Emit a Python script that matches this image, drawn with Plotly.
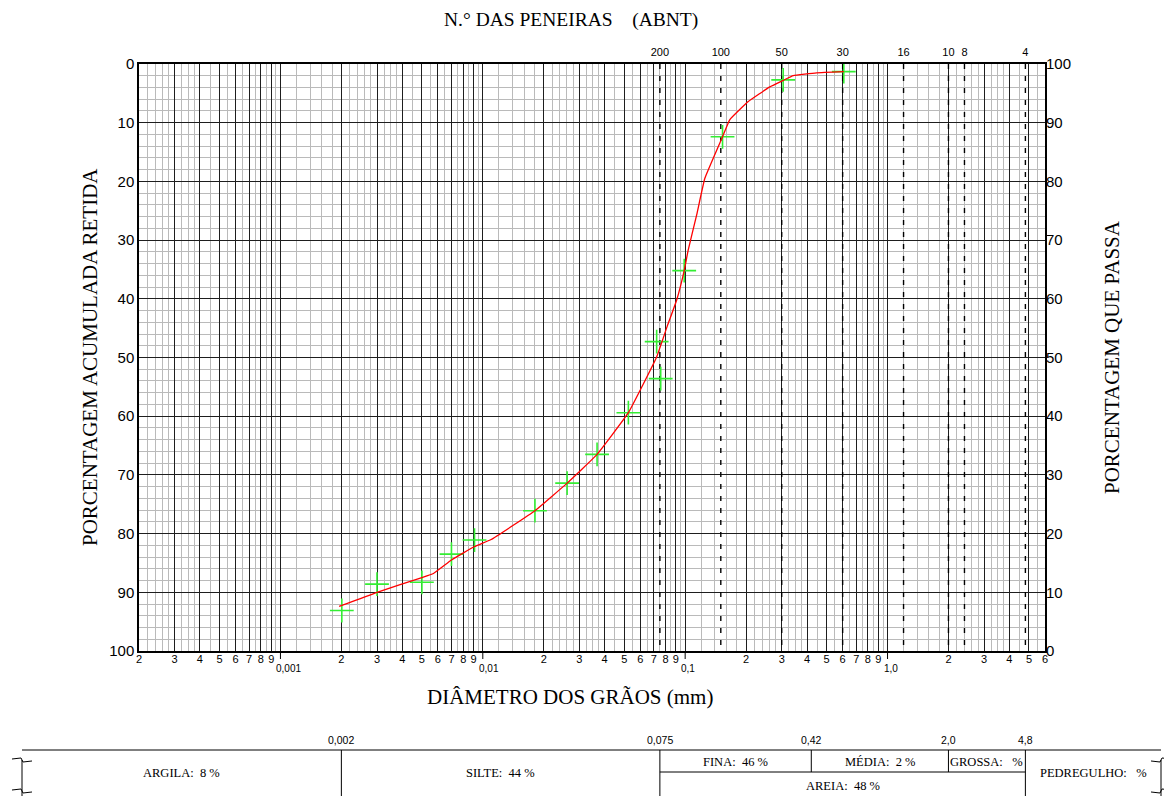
import math
import plotly.graph_objects as go

# ---------------- data ----------------
# red fitted curve: grain diameter (mm) vs cumulative % retained
curve_mm = [0.00195, 0.003, 0.005, 0.0057, 0.007, 0.0091, 0.011, 0.0181, 0.0261, 0.0367,
            0.0524, 0.0723, 0.0815, 0.0908, 0.0989, 0.1035, 0.114, 0.125, 0.153, 0.166,
            0.205, 0.262, 0.305, 0.342, 0.446, 0.608]
curve_ret = [92.4, 90.0, 87.5, 86.8, 84.5, 82.2, 81.0, 76.1, 71.4, 66.5,
             59.4, 49.9, 44.7, 40.2, 35.2, 31.7, 25.7, 19.5, 12.4, 9.5,
             6.4, 3.9, 2.8, 2.0, 1.5, 1.3]

# green test points
pts_mm = [0.00201, 0.0030, 0.0050, 0.0070, 0.0091, 0.0181, 0.0261, 0.0367, 0.0524,
          0.0723, 0.0757, 0.0989, 0.153, 0.305, 0.608]
pts_ret = [93.1, 88.6, 88.3, 83.5, 81.1, 76.1, 71.4, 66.5, 59.4,
           47.3, 53.6, 35.2, 12.4, 2.7, 1.3]

# ABNT sieves
sieve_no = ["200", "100", "50", "30", "16", "10", "8", "4"]
sieve_mm = [0.075, 0.15, 0.3, 0.6, 1.2, 2.0, 2.4, 4.8]

# y ticks
y_ticks = [0, 10, 20, 30, 40, 50, 60, 70, 80, 90, 100]

# decade labels
decade_vals = [0.001, 0.01, 0.1, 1.0]
decade_text = ["0,001", "0,01", "0,1", "1,0"]

# classification table
bound_mm = [0.002, 0.075, 0.42, 2.0, 4.8]
bound_text = ["0,002", "0,075", "0,42", "2,0", "4,8"]
argila_pct, silte_pct, fina_pct, media_pct, grossa_pct, areia_pct, pedreg_pct = "8", "44", "46", "2", "", "48", ""

# ---------------- geometry helpers ----------------
XMIN, XMAX = 0.0002, 6.0
LMIN, LMAX = math.log10(XMIN), math.log10(XMAX)
W, H = 1172, 796
OFF = 8  # page body margin
# plot area in screen pixels: x 139..1045, y 64..651
SX0, SX1, SY0, SY1 = 139, 1045, 64, 651
ML, MT = SX0 - OFF, SY0 - OFF
MR, MB = W - (SX1 - OFF), H - (SY1 - OFF)
PW, PH = SX1 - SX0, SY1 - SY0


def xp(d):  # data diameter -> paper x
    return (math.log10(d) - LMIN) / (LMAX - LMIN)


def px(x):  # screen pixel x -> paper
    return (x - SX0) / PW


def py(y):  # screen pixel y -> paper
    return (SY1 - y) / PH


# grid values
major, major_txt, minor = [], [], []
for e in range(-4, 1):
    dec = 10.0 ** e
    for m in range(1, 10):
        v = round(m * dec, 10)
        if XMIN - 1e-12 <= v <= XMAX + 1e-12:
            major.append(v)
            major_txt.append("" if m == 1 else str(m))
    subs = [1.2, 1.4, 1.6, 1.8, 2.2, 2.4, 2.6, 2.8, 3.25, 3.5, 3.75,
            4.5, 5.5, 6.5, 7.5, 8.5, 9.5]
    for s in subs:
        v = round(s * dec, 12)
        if XMIN < v < XMAX:
            minor.append(v)

fig = go.Figure()

# sieve dashed lines
for d in sieve_mm:
    fig.add_trace(go.Scatter(x=[d, d], y=[0, 100], mode="lines",
                             line=dict(color="black", width=1.4, dash="5px,7px"),
                             hoverinfo="skip", showlegend=False))

# test points
fig.add_trace(go.Scatter(x=pts_mm, y=pts_ret, mode="markers",
                         marker=dict(symbol="cross-thin", size=17,
                                     line=dict(color="#33ee33", width=1.6)),
                         showlegend=False))

# curve
fig.add_trace(go.Scatter(x=curve_mm, y=curve_ret, mode="lines",
                         line=dict(color="#ff0000", width=1.3, shape="spline", smoothing=0.3),
                         showlegend=False))

# dummy trace for the secondary axes
fig.add_trace(go.Scatter(x=sieve_mm, y=[None] * len(sieve_mm), xaxis="x2", yaxis="y2",
                         mode="lines", showlegend=False, hoverinfo="skip"))

tick_font = dict(family="Liberation Sans, Arial, sans-serif", color="black")
serif = "Liberation Serif, Times New Roman, serif"

fig.update_layout(
    width=W, height=H, autosize=False,
    margin=dict(l=ML, r=MR, t=MT, b=MB, autoexpand=False),
    paper_bgcolor="white", plot_bgcolor="white",
    showlegend=False,
    xaxis=dict(type="log", range=[LMIN, LMAX], tickvals=major, ticktext=major_txt,
               showgrid=True, gridcolor="#1e1e1e", gridwidth=1,
               minor=dict(tickvals=minor, showgrid=True, gridcolor="#bababa", gridwidth=1, ticks=""),
               ticks="", showline=True, linecolor="black", linewidth=1.5, mirror=True,
               ticklabelstandoff=-3,
               zeroline=False, tickfont=dict(size=11, **tick_font)),
    xaxis2=dict(type="log", range=[LMIN, LMAX], overlaying="x", side="top",
                tickvals=sieve_mm, ticktext=sieve_no, showgrid=False, ticks="",
                ticklabelstandoff=5,
                zeroline=False, showline=False, tickfont=dict(size=11, **tick_font)),
    yaxis=dict(range=[100, 0], tickvals=y_ticks, showgrid=True, gridcolor="#1e1e1e", gridwidth=1,
               minor=dict(tick0=0, dtick=2, showgrid=True, gridcolor="#bababa", gridwidth=1, ticks=""),
               ticks="", showline=True, linecolor="black", linewidth=1.5, mirror=True,
               zeroline=False, tickfont=dict(size=15, **tick_font)),
    yaxis2=dict(range=[0, 100], overlaying="y", side="right", tickvals=y_ticks,
                ticktext=[str(v) for v in y_ticks], showgrid=False, ticks="",
                zeroline=False, showline=False, tickfont=dict(size=15, **tick_font)),
)

ann = []
# decade labels under the axis
for v, t in zip(decade_vals, decade_text):
    ann.append(dict(x=math.log10(v), xref="x", y=py(668), yref="paper", text=t, showarrow=False,
                    font=dict(size=10, **tick_font), xanchor="left", xshift=-6, yanchor="middle"))

# titles
ann.append(dict(x=px(570), y=py(697), xref="paper", yref="paper", text="DIÂMETRO DOS GRÃOS (mm)",
                showarrow=False, font=dict(family=serif, size=21, color="black"),
                xanchor="center", yanchor="middle"))
ann.append(dict(x=px(571), y=py(20), xref="paper", yref="paper",
                text="N.° DAS PENEIRAS\u00a0\u00a0\u00a0\u00a0(ABNT)",
                showarrow=False, font=dict(family=serif, size=19.5, color="black"),
                xanchor="center", yanchor="middle"))
ann.append(dict(x=px(90), y=py(357), xref="paper", yref="paper", text="PORCENTAGEM ACUMULADA RETIDA",
                showarrow=False, textangle=-90, font=dict(family=serif, size=21, color="black"),
                xanchor="center", yanchor="middle"))
ann.append(dict(x=px(1112), y=py(357), xref="paper", yref="paper", text="PORCENTAGEM QUE PASSA",
                showarrow=False, textangle=-90, font=dict(family=serif, size=21, color="black"),
                xanchor="center", yanchor="middle"))

# table
TL, TR = px(22), px(1161)
Y_TOP, Y_MID, Y_BOT = py(750), py(772), py(805)
shapes = []
lk = dict(color="black", width=1)


def seg(x0, y0, x1, y1):
    shapes.append(dict(type="line", xref="paper", yref="paper", x0=x0, y0=y0, x1=x1, y1=y1,
                       line=lk, layer="above"))


seg(TL, Y_TOP, TR, Y_TOP)
b = [xp(v) for v in bound_mm]
seg(b[0], Y_TOP, b[0], Y_BOT)
seg(b[1], Y_TOP, b[1], Y_BOT)
seg(b[4], Y_TOP, b[4], Y_BOT)
seg(b[2], Y_TOP, b[2], Y_MID)
seg(b[3], Y_TOP, b[3], Y_MID)
seg(b[1], Y_MID, b[4], Y_MID)

# break symbols at table ends
for xc, sgn in ((22, 1), (1161, -1)):
    seg(px(xc), py(760), px(xc), py(805))
    for yc in (760, 791):
        pts = [(xc - 10 * sgn, yc - 1), (xc - 1 * sgn, yc - 2), (xc + 1 * sgn, yc + 2), (xc + 10 * sgn, yc + 1)]
        path = "M " + " L ".join(f"{px(a):.5f},{py(c):.5f}" for a, c in pts)
        shapes.append(dict(type="path", xref="paper", yref="paper", path=path, line=lk, layer="above"))

# decade tick marks below axis
for v in decade_vals:
    seg(xp(v), 0, xp(v), py(659))

# boundary labels above table
for v, t in zip(bound_mm, bound_text):
    ann.append(dict(x=xp(v), y=py(740), xref="paper", yref="paper", text=t, showarrow=False,
                    font=dict(size=10.5, **tick_font), xanchor="center", yanchor="middle"))

cell_font = dict(family=serif, size=12.5, color="black")


def cell(xc, yc, text):
    ann.append(dict(x=xc, y=yc, xref="paper", yref="paper", text=text, showarrow=False,
                    font=cell_font, xanchor="center", yanchor="middle"))


y_full = py(773)
y_up = py(762)
y_dn = py(786)
cell((TL + b[0]) / 2, y_full, f"ARGILA:\u00a0\u00a0{argila_pct}\u00a0%")
cell((b[0] + b[1]) / 2, y_full, f"SILTE:\u00a0\u00a0{silte_pct}\u00a0%")
cell((b[1] + b[2]) / 2, y_up, f"FINA:\u00a0\u00a0{fina_pct}\u00a0%")
cell((b[2] + b[3]) / 2, y_up, f"MÉDIA:\u00a0\u00a0{media_pct}\u00a0%")
cell((b[3] + b[4]) / 2, y_up, f"GROSSA:\u00a0\u00a0{grossa_pct}\u00a0%")
cell((b[1] + b[4]) / 2, y_dn, f"AREIA:\u00a0\u00a0{areia_pct}\u00a0%")
cell((b[4] + TR) / 2, y_full, f"PEDREGULHO:\u00a0\u00a0{pedreg_pct}\u00a0%")

fig.update_layout(annotations=ann, shapes=shapes)

fig.write_html("out.html")
